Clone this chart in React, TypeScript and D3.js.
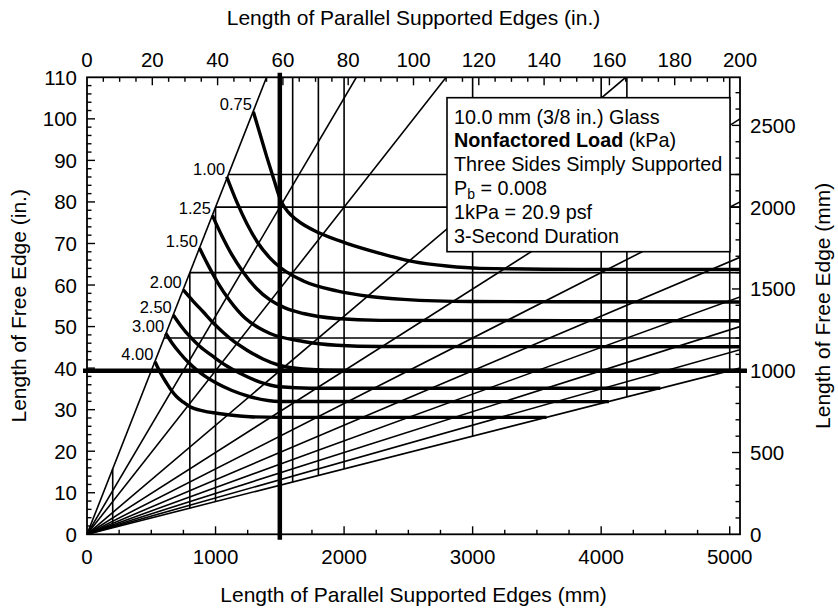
import React from "react";
import * as d3 from "d3";

const W = 838;
const H = 611;
const FONT = "'Liberation Sans', Arial, Helvetica, sans-serif";

// Plot frame in page pixels
const LEFT = 87;
const RIGHT = 740;
const TOP = 77.3;
const BOTTOM = 534.3;

// Both directions are plotted in millimetres; the frame spans 200 in x 110 in
const X_MAX_MM = 5080;
const Y_MAX_MM = 2794;

// Supported-edge / free-edge aspect ratios, drawn as rays from the origin
const aspectRatios = [0.5, 0.75, 1, 1.5, 2, 2.5, 3, 3.5, 4, 4.5, 5];
// Supported-edge lengths (mm) carrying vertical guide lines
const guideX = [200, 800, 1000, 1600, 1800, 2000, 3000, 4000, 4200, 5000];
// Free-edge lengths (mm) carrying horizontal guide lines
const guideY = [1200, 1600, 2000, 2200];

// Worked example: 1500 mm supported edges, 1000 mm free edge
const exampleSupported = 1500;
const exampleFree = 1000;

// Nonfactored load contours (kPa), [supported mm, free mm]
const loadLabels = ["0.75", "1.00", "1.25", "1.50", "2.00", "2.50", "3.00", "4.00"];
const load075 = [[1294, 2584], [1346, 2447], [1398, 2309], [1455, 2166], [1509, 2038], [1564, 1971], [1631, 1922], [1813, 1840], [2020, 1779], [2279, 1718], [2539, 1667], [2798, 1640], [3057, 1626], [3835, 1620], [5080, 1620]];
const load100 = [[1087, 2186], [1165, 2032], [1245, 1897], [1330, 1781], [1424, 1689], [1509, 1628], [1683, 1549], [1943, 1488], [2202, 1454], [2461, 1436], [2980, 1423], [5080, 1420]];
const load125 = [[975, 1950], [1050, 1824], [1128, 1708], [1214, 1604], [1315, 1506], [1424, 1433], [1540, 1384], [1683, 1350], [1943, 1319], [2279, 1308], [5080, 1306]];
const load150 = [[875, 1750], [941, 1647], [1019, 1536], [1113, 1426], [1229, 1322], [1346, 1258], [1424, 1228], [1683, 1179], [1943, 1156], [2279, 1148], [5080, 1147]];
const load200 = [[749, 1494], [825, 1426], [905, 1359], [983, 1292], [1060, 1234], [1138, 1182], [1242, 1127], [1369, 1072], [1501, 1032], [1680, 1011], [2020, 1001], [5080, 1001]];
const load250 = [[671, 1341], [731, 1274], [801, 1208], [879, 1148], [983, 1086], [1081, 1032], [1190, 984], [1346, 931], [1501, 902], [1735, 893], [4460, 893]];
const load300 = [[612, 1229], [661, 1170], [724, 1107], [786, 1053], [853, 1005], [926, 962], [1009, 923], [1128, 879], [1268, 841], [1501, 812], [4060, 811]];
const load400 = [[529, 1055], [572, 986], [620, 923], [657, 879], [698, 841], [747, 809], [801, 780], [902, 754], [1009, 740], [1268, 719], [1501, 715], [3575, 715]];
const loadCurves = [load075, load100, load125, load150, load200, load250, load300, load400];

// Axis tick labels
const topTickLabels = [0, 20, 40, 60, 80, 100, 120, 140, 160, 180, 200]; // in.
const bottomTickLabels = [0, 1000, 2000, 3000, 4000, 5000]; // mm
const leftTickLabels = [0, 10, 20, 30, 40, 50, 60, 70, 80, 90, 100, 110]; // in.
const rightTickLabels = [0, 500, 1000, 1500, 2000, 2500]; // mm

const topTitle = "Length of Parallel Supported Edges (in.)";
const bottomTitle = "Length of Parallel Supported Edges (mm)";
const leftTitle = "Length of Free Edge (in.)";
const rightTitle = "Length of Free Edge (mm)";

// Legend block
const glassLabel = "10.0 mm (3/8 in.) Glass";
const loadTitle = "Nonfactored Load";
const loadUnit = " (kPa)";
const supportLabel = "Three Sides Simply Supported";
const probSymbol = "P";
const probSub = "b";
const probValue = " = 0.008";
const conversionLabel = "1kPa = 20.9 psf";
const durationLabel = "3-Second Duration";

export default function App() {
  const x = d3.scaleLinear().domain([0, X_MAX_MM]).range([LEFT, RIGHT]);
  const y = d3.scaleLinear().domain([0, Y_MAX_MM]).range([BOTTOM, TOP]);
  const xIn = d3.scaleLinear().domain([0, 200]).range([LEFT, RIGHT]);
  const yIn = d3.scaleLinear().domain([0, 110]).range([BOTTOM, TOP]);

  const curve = d3
    .line<number[]>()
    .x((d) => x(d[0]))
    .y((d) => y(d[1]))
    .curve(d3.curveMonotoneX);

  const thin = 1.6;
  const major = 8;
  const minor = 4.5;

  // tick positions
  const topTicks = d3.range(5, 200, 5);
  const bottomTicks = d3.range(250, 5001, 250);
  const leftTicks = d3.range(2, 110, 2);
  const rightTicks = d3.range(100, 2794, 100);

  const legendX = 454;
  const legendTop = 123.5;
  const legendStep = 23.9;

  return (
    <svg
      width={W}
      height={H}
      style={{ position: "absolute", left: 0, top: 0, background: "#fff" }}
      fontFamily={FONT}
    >
      <defs>
        <clipPath id="plotArea">
          <rect x={LEFT} y={TOP} width={RIGHT - LEFT} height={BOTTOM - TOP} />
        </clipPath>
      </defs>
      <rect x={0} y={0} width={W} height={H} fill="#fff" />

      <g clipPath="url(#plotArea)" stroke="#000" fill="none">
        {aspectRatios.map((r) => {
          const end = Math.min(X_MAX_MM, Y_MAX_MM * r);
          return (
            <line key={"r" + r} x1={x(0)} y1={y(0)} x2={x(end)} y2={y(end / r)} strokeWidth={thin} />
          );
        })}
        {guideX.map((g) => (
          <line
            key={"gx" + g}
            x1={x(g)}
            x2={x(g)}
            y1={y(g * 0.2)}
            y2={y(Math.min(g * 2, Y_MAX_MM))}
            strokeWidth={thin}
          />
        ))}
        {guideY.map((g) => (
          <line
            key={"gy" + g}
            y1={y(g)}
            y2={y(g)}
            x1={x(g * 0.5)}
            x2={x(Math.min(g * 5, X_MAX_MM))}
            strokeWidth={thin}
          />
        ))}
        {loadCurves.map((c, i) => (
          <path key={"c" + i} d={curve(c) || ""} strokeWidth={3.4} strokeLinejoin="round" />
        ))}
      </g>

      {/* worked example */}
      <line x1={x(exampleSupported)} x2={x(exampleSupported)} y1={BOTTOM + 5.5} y2={TOP - 4.5} stroke="#000" strokeWidth={4.5} />
      <line y1={y(exampleFree)} y2={y(exampleFree)} x1={LEFT - 4} x2={RIGHT + 7} stroke="#000" strokeWidth={4.5} />

      {/* contour labels */}
      {loadCurves.map((c, i) => (
        <text
          key={"l" + i}
          x={x(c[0][0]) - 1.5}
          y={y(c[0][1]) - 7.5}
          textAnchor="end"
          dominantBaseline="central"
          fontSize={16.5}
        >
          {loadLabels[i]}
        </text>
      ))}

      {/* legend */}
      <rect x={447} y={97.7} width={283} height={154} fill="#fff" stroke="#000" strokeWidth={1.6} />
      <g fontSize={19.8}>
        <text x={legendX} y={legendTop}>{glassLabel}</text>
        <text x={legendX} y={legendTop + legendStep}>
          <tspan fontWeight="bold">{loadTitle}</tspan>
          <tspan>{loadUnit}</tspan>
        </text>
        <text x={legendX} y={legendTop + legendStep * 2}>{supportLabel}</text>
        <text x={legendX} y={legendTop + legendStep * 3}>
          <tspan>{probSymbol}</tspan>
          <tspan dy={4} fontSize={14}>{probSub}</tspan>
          <tspan dy={-4}>{probValue}</tspan>
        </text>
        <text x={legendX} y={legendTop + legendStep * 4}>{conversionLabel}</text>
        <text x={legendX} y={legendTop + legendStep * 5}>{durationLabel}</text>
      </g>

      {/* frame */}
      <rect x={LEFT} y={TOP} width={RIGHT - LEFT} height={BOTTOM - TOP} fill="none" stroke="#000" strokeWidth={1.8} />

      {/* ticks */}
      <g stroke="#000" strokeWidth={1.4}>
        {topTicks.map((t) => (
          <line key={"tt" + t} x1={xIn(t)} x2={xIn(t)} y1={TOP} y2={TOP + (t % 20 === 0 ? major : minor)} />
        ))}
        {bottomTicks.map((t) => (
          <line key={"bt" + t} x1={x(t)} x2={x(t)} y1={BOTTOM} y2={BOTTOM - (t % 1000 === 0 ? major : minor)} />
        ))}
        {leftTicks.map((t) => (
          <line key={"lt" + t} y1={yIn(t)} y2={yIn(t)} x1={LEFT} x2={LEFT + (t % 10 === 0 ? major : minor)} />
        ))}
        {rightTicks.map((t) => (
          <line key={"rt" + t} y1={y(t)} y2={y(t)} x1={RIGHT} x2={RIGHT - (t % 500 === 0 ? major : minor)} />
        ))}
      </g>

      {/* tick labels */}
      <g fontSize={20.5}>
        {topTickLabels.map((t) => (
          <text key={"tl" + t} x={xIn(t)} y={67} textAnchor="middle">{t}</text>
        ))}
        {bottomTickLabels.map((t) => (
          <text key={"bl" + t} x={x(t)} y={563.5} textAnchor="middle">{t}</text>
        ))}
        {leftTickLabels.map((t) => (
          <text key={"ll" + t} x={77} y={yIn(t)} textAnchor="end" dominantBaseline="central">{t}</text>
        ))}
        {rightTickLabels.map((t) => (
          <text key={"rl" + t} x={750} y={y(t)} textAnchor="start" dominantBaseline="central">{t}</text>
        ))}
      </g>

      {/* axis titles */}
      <g fontSize={21}>
        <text x={(LEFT + RIGHT) / 2} y={25} textAnchor="middle">{topTitle}</text>
        <text x={(LEFT + RIGHT) / 2} y={601.5} textAnchor="middle">{bottomTitle}</text>
        <text transform={`translate(26, ${(TOP + BOTTOM) / 2}) rotate(-90)`} textAnchor="middle">{leftTitle}</text>
        <text transform={`translate(830, ${(TOP + BOTTOM) / 2}) rotate(-90)`} textAnchor="middle">{rightTitle}</text>
      </g>
    </svg>
  );
}
